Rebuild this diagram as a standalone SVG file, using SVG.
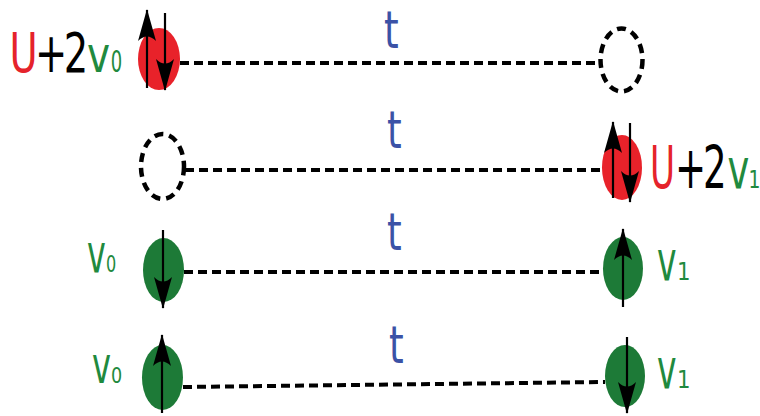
<svg xmlns="http://www.w3.org/2000/svg" width="760" height="416" viewBox="0 0 760 416">
<style>
.lbl{font-family:"DejaVu Sans","Liberation Sans",sans-serif}
.red{fill:#e5232b}
.blk{fill:#000}
.grn{fill:#1f8a3e}
.blu{fill:#3b52a6}
.conn{fill:none;stroke:#000;stroke-width:4;stroke-dasharray:9 5}
.empty{fill:none;stroke:#000;stroke-width:4.5;stroke-dasharray:9 6}
.rnode{fill:#e8222a}
.gnode{fill:#1d7a37}
.spin{stroke:#000;stroke-width:2.2;fill:none;marker-end:url(#ah)}
</style>
<defs>
<marker id="ah" viewBox="0 0 32 20" refX="31" refY="10" markerWidth="32" markerHeight="20" markerUnits="userSpaceOnUse" orient="auto">
<path d="M0,1 L32,10 L0,19 Q9,10 0,1 z" fill="#000"/>
</marker>
</defs>
<g id="connectors">
<line class="conn" x1="180" y1="63" x2="600" y2="63"/>
<line class="conn" x1="185" y1="170" x2="602" y2="170"/>
<line class="conn" x1="184" y1="272" x2="603" y2="272"/>
<line class="conn" x1="183" y1="387" x2="605" y2="382"/>
</g>
<g id="t-labels" class="lbl blu" font-size="52">
<text transform="translate(384,48) scale(0.72,1)">t</text>
<text transform="translate(387,148) scale(0.72,1)">t</text>
<text transform="translate(387,250) scale(0.72,1)">t</text>
<text transform="translate(389,363) scale(0.72,1)">t</text>
</g>
<g id="n1-left">
<ellipse class="rnode" cx="159" cy="59" rx="21" ry="31"/>
<line class="spin" x1="147" y1="88" x2="147" y2="10"/>
<line class="spin" x1="165" y1="13" x2="165" y2="90"/>
<g class="lbl">
<text class="red" font-size="55" transform="translate(9.6,72) scale(0.7,1)">U</text>
<text class="blk" font-size="55" letter-spacing="-5" transform="translate(35,72) scale(0.7,1)">+2</text>
<text class="grn" font-size="50" transform="translate(87,72) scale(0.78,1)">v</text>
<text class="grn" font-size="30" transform="translate(110.8,72) scale(0.6,1)">0</text>
</g>
</g>
<g id="n1-right">
<ellipse class="empty" cx="621.5" cy="60" rx="21" ry="31.5"/>
</g>
<g id="n2-left">
<ellipse class="empty" cx="162.5" cy="166.5" rx="21.5" ry="32.5"/>
</g>
<g id="n2-right">
<ellipse class="rnode" cx="622" cy="167.5" rx="20" ry="32.5"/>
<line class="spin" x1="613" y1="198" x2="613" y2="122"/>
<line class="spin" x1="630" y1="123" x2="630" y2="202"/>
<g class="lbl">
<text class="red" font-size="59" transform="translate(650,188) scale(0.58,1)">U</text>
<text class="blk" font-size="59" letter-spacing="-5" transform="translate(675,188) scale(0.63,1)">+2</text>
<text class="grn" font-size="55" transform="translate(727.5,188) scale(0.67,1)">v</text>
<text class="grn" font-size="25" transform="translate(748.5,188) scale(0.75,1)">1</text>
</g>
</g>
<g id="n3-left">
<ellipse class="gnode" cx="163.5" cy="270" rx="20.5" ry="32"/>
<line class="spin" x1="163" y1="230" x2="163" y2="308"/>
<g class="lbl grn">
<text font-size="53" transform="translate(87,272) scale(0.6,1)">v</text>
<text font-size="23" transform="translate(106,272) scale(0.7,1)">0</text>
</g>
</g>
<g id="n3-right">
<ellipse class="gnode" cx="623" cy="268.5" rx="20" ry="31.5"/>
<line class="spin" x1="623" y1="307" x2="623" y2="229"/>
<g class="lbl grn">
<text font-size="55" transform="translate(657,280) scale(0.6,1)">v</text>
<text font-size="25" transform="translate(677,280) scale(0.85,1)">1</text>
</g>
</g>
<g id="n4-left">
<ellipse class="gnode" cx="162.5" cy="377.5" rx="20.5" ry="32.5"/>
<line class="spin" x1="162" y1="413" x2="162" y2="335"/>
<g class="lbl grn">
<text font-size="51" transform="translate(92,383) scale(0.63,1)">v</text>
<text font-size="22" transform="translate(111,383) scale(0.8,1)">0</text>
</g>
</g>
<g id="n4-right">
<ellipse class="gnode" cx="625" cy="376" rx="20" ry="31"/>
<line class="spin" x1="627" y1="337" x2="627" y2="413"/>
<g class="lbl grn">
<text font-size="55" transform="translate(657,388) scale(0.6,1)">v</text>
<text font-size="25" transform="translate(677,388) scale(0.85,1)">1</text>
</g>
</g>
</svg>
